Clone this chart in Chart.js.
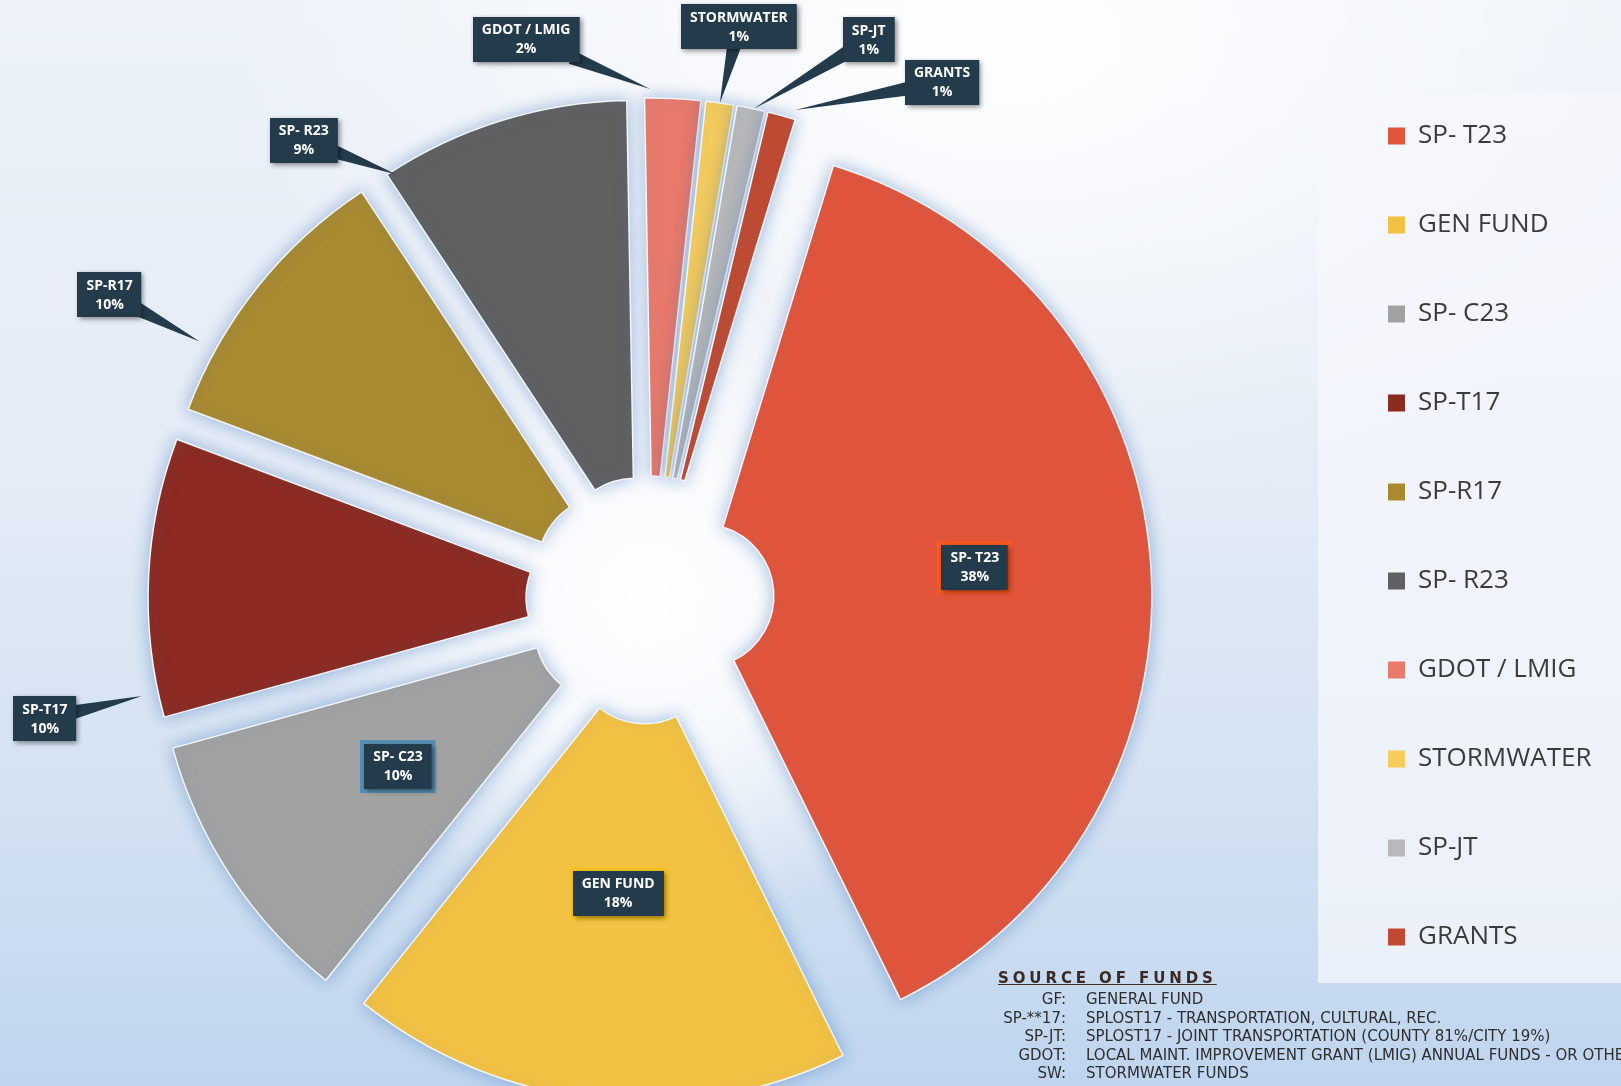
<!DOCTYPE html>
<html lang="en">
<head>
	<meta charset="UTF-8">
	<title>Source of Funds</title>
	<script src="https://cdn.jsdelivr.net/npm/chart.js@4.4.1/dist/chart.umd.min.js"></script>
	<style>
		* {
			box-sizing: border-box;
		}

		html,
		body {
			margin: 0;
			width: 1621px;
			height: 1086px;
			overflow: hidden;
		}

		body {
			position: relative;
			font-family: "Open Sans", sans-serif;
			background:
				radial-gradient(ellipse 48% 42% at 62% 4%, rgba(255, 255, 255, 0.95), rgba(255, 255, 255, 0)),
				linear-gradient(180deg, #edf2f9 0%, #e3ebf6 45%, #d2e1f2 75%, #bfd5ee 100%);
		}

		#chart {
			position: absolute;
			left: -25px;
			top: 0;
			z-index: 1;
		}

		#sources {
			position: absolute;
			left: 998px;
			top: 966px;
			z-index: 2;
			color: #2e2e2e;
			font-family: "DejaVu Sans", sans-serif;
			font-size: 15px;
			white-space: nowrap;
		}

		#sources h2 {
			margin: 0;
			font: bold 15px "DejaVu Sans", sans-serif;
			letter-spacing: 3.9px;
			text-decoration: underline;
			line-height: 24px;
			color: #3a2a22;
		}

		.row {
			display: flex;
			line-height: 18.6px;
		}

		.code {
			width: 68px;
			text-align: right;
		}

		.desc {
			margin-left: 20px;
		}
	</style>
</head>

<body>
	<canvas id="chart" width="1646" height="1200"></canvas>
	<div id="sources"></div>

	<script>
		// slices, in drawing order (clockwise from the top)
		const categories = ["SP- T23", "GEN FUND", "SP- C23", "SP-T17", "SP-R17", "SP- R23", "GDOT / LMIG", "STORMWATER", "SP-JT", "GRANTS"];
		const shares = [38, 18, 10, 10, 10, 9, 2, 1, 1, 1];
		const colors = ["#e3553b", "#f4c242", "#a2a2a2", "#8d2b22", "#a98a2f", "#606060", "#ea7a6b", "#f6cd5c", "#b9b9b9", "#c24a30"];

		// footnote under the legend
		const sourceCodes = ["GF:", "SP-**17:", "SP-JT:", "GDOT:", "SW:"];
		const sourceNames = [
			"GENERAL FUND",
			"SPLOST17 - TRANSPORTATION, CULTURAL, REC.",
			"SPLOST17 - JOINT TRANSPORTATION (COUNTY 81%/CITY 19%)",
			"LOCAL MAINT. IMPROVEMENT GRANT (LMIG) ANNUAL FUNDS - OR OTHER",
			"STORMWATER FUNDS"
		];

		// where each data label goes: inside (r = fraction of radius) or as a callout
		// (at = fraction along the slice, box moved by dx/dy from the pointer tip)
		const labelSpots = [
			{ inside: true, at: 0.49, r: 0.61, ring: "#ff5a1f" },
			{ inside: true, at: 0.5, r: 0.54, ring: "#f7c51e" },
			{ inside: true, at: 0.5, r: 0.555, ring: "#4a8db8" },
			{ at: 0.09, r: 1.037, dx: -97, dy: 23 },
			{ at: 0.23, r: 1.04, dx: -90, dy: -47 },
			{ at: 0.03, r: 0.99, dx: -92, dy: -34 },
			{ at: 0.1, r: 1.02, dx: -124, dy: -50 },
			{ at: 0.5, r: 1.0, dx: 19, dy: -76 },
			{ at: 0.6, r: 1.0, dx: 115, dy: -69 },
			{ at: 0.9, r: 1.02, dx: 147, dy: -28 }
		];

		const explode = 52;
		const legendLeft = 1350; // canvas x where the legend column starts

		const src = document.getElementById("sources");
		let html = "<h2>SOURCE OF FUNDS</h2>";
		for (let i = 0; i < sourceCodes.length; i++) {
			html += `<div class="row"><span class="code">${sourceCodes[i]}</span><span class="desc">${sourceNames[i]}</span></div>`;
		}
		src.innerHTML = html;

		function arcAngle(arc, t) {
			return arc.startAngle + (arc.endAngle - arc.startAngle) * t;
		}

		function shiftOf(arc) {
			const mid = arcAngle(arc, 0.5);
			return { x: Math.cos(mid) * explode, y: Math.sin(mid) * explode };
		}

		const explodedPie = {
			id: "explodedPie",
			beforeDraw(chart) {
				// pale panel behind the legend
				const lg = chart.legend;
				const boxes = lg.legendHitBoxes;
				if (!boxes || !boxes.length) return;
				const top = boxes[0].top - 30;
				const bottom = boxes[boxes.length - 1].top + boxes[boxes.length - 1].height + 33;
				const ctx = chart.ctx;
				ctx.save();
				ctx.fillStyle = "rgba(245, 247, 252, 0.75)";
				ctx.fillRect(lg.left - 7, top, chart.width - lg.left + 7, bottom - top);
				ctx.restore();
			},
			beforeDatasetsDraw(chart) {
				const ctx = chart.ctx;
				const arcs = chart.getDatasetMeta(0).data;
				const cx = arcs[0].x, cy = arcs[0].y;

				const g = ctx.createRadialGradient(cx, cy, 0, cx, cy, 340);
				g.addColorStop(0, "rgba(255,255,255,0.95)");
				g.addColorStop(0.45, "rgba(255,255,255,0.75)");
				g.addColorStop(1, "rgba(255,255,255,0)");
				ctx.save();
				ctx.fillStyle = g;
				ctx.fillRect(cx - 340, cy - 340, 680, 680);
				ctx.restore();

				arcs.forEach(arc => {
					const s = shiftOf(arc);
					ctx.save();
					ctx.translate(s.x, s.y);
					ctx.shadowColor = "rgba(60, 110, 180, 0.45)";
					ctx.shadowBlur = 16;
					arc.draw(ctx);
					ctx.restore();
				});
				return false;
			},
			afterDraw(chart) {
				const ctx = chart.ctx;
				const arcs = chart.getDatasetMeta(0).data;
				ctx.save();
				ctx.font = 'bold 14px "Open Sans"';
				ctx.textAlign = "center";
				ctx.textBaseline = "middle";

				arcs.forEach((arc, i) => {
					const spot = labelSpots[i];
					const s = shiftOf(arc);
					const lines = [categories[i], shares[i] + "%"];
					const w = Math.max(...lines.map(l => ctx.measureText(l).width)) + 18;
					const h = 45;
					const a = arcAngle(arc, spot.at);
					const px = arc.x + s.x + Math.cos(a) * arc.outerRadius * spot.r;
					const py = arc.y + s.y + Math.sin(a) * arc.outerRadius * spot.r;
					let bx = px, by = py;

					if (!spot.inside) {
						bx = px + spot.dx;
						by = py + spot.dy;

						// callout pointer
						const vx = px - bx, vy = py - by;
						const kx = vx !== 0 ? (w / 2) / Math.abs(vx) : Infinity;
						const ky = vy !== 0 ? (h / 2) / Math.abs(vy) : Infinity;
						const k = Math.min(kx, ky) * 0.85;
						const ex = bx + vx * k, ey = by + vy * k;
						const len = Math.hypot(vx, vy);
						const nx = -vy / len * 7, ny = vx / len * 7;
						ctx.fillStyle = "#243b4c";
						ctx.beginPath();
						ctx.moveTo(ex + nx, ey + ny);
						ctx.lineTo(px, py);
						ctx.lineTo(ex - nx, ey - ny);
						ctx.closePath();
						ctx.fill();
					}

					const x0 = Math.round(bx - w / 2), y0 = Math.round(by - h / 2);
					if (spot.ring) {
						ctx.fillStyle = spot.ring;
						ctx.globalAlpha = 0.85;
						ctx.fillRect(x0 - 4, y0 - 4, w + 8, h + 8);
						ctx.globalAlpha = 1;
					}
					ctx.save();
					ctx.shadowColor = "rgba(0, 0, 0, 0.45)";
					ctx.shadowBlur = 5;
					ctx.shadowOffsetX = 2;
					ctx.shadowOffsetY = 2;
					ctx.fillStyle = "#243b4c";
					ctx.fillRect(x0, y0, w, h);
					ctx.restore();

					ctx.fillStyle = "#ffffff";
					ctx.fillText(lines[0], bx, by - 9);
					ctx.fillText(lines[1], bx, by + 10);
				});
				ctx.restore();
			}
		};

		const ctx = document.getElementById("chart").getContext("2d");

		const chart = new Chart(ctx, {
			type: "doughnut",
			data: {
				labels: categories,
				datasets: [{
					data: shares,
					backgroundColor: colors,
					borderColor: "#f3f6fb",
					borderWidth: 1.5
				}]
			},
			plugins: [explodedPie],
			options: {
				responsive: false,
				animation: false,
				events: [],
				rotation: 17,
				cutout: "16%",
				radius: 450,
				layout: {
					padding: { right: 0 }
				},
				plugins: {
					tooltip: { enabled: false },
					legend: {
						position: "right",
						align: "start",
						title: {
							display: true,
							text: " ",
							padding: 0,
							font: { size: 10, lineHeight: "60px" }
						},
						labels: {
							boxWidth: 17,
							boxHeight: 17,
							padding: 63,
							color: "#3b3b3b",
							font: { family: '"Open Sans"', size: 26 },
							generateLabels(c) {
								return Chart.overrides.doughnut.plugins.legend.labels.generateLabels(c)
									.map(item => Object.assign(item, { lineWidth: 0 }));
							}
						}
					}
				}
			}
		});

		// put the legend column where it sits in the picture, pie centred left of it
		chart.options.layout.padding.right = chart.width - legendLeft - chart.legend.width;
		chart.update();
	</script>
</body>

</html>
